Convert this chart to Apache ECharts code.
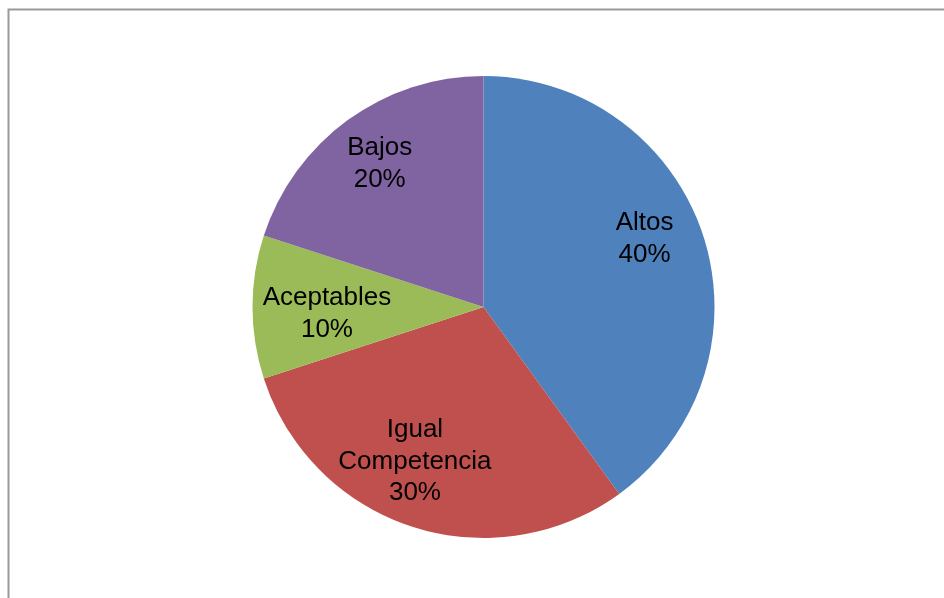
<!DOCTYPE html>
<html>
<head>
<meta charset="utf-8">
<style>
  html, body { margin: 0; padding: 0; background: #ffffff; }
  #chart { width: 944px; height: 598px; }
</style>
<script src="https://cdn.jsdelivr.net/npm/echarts@6/dist/echarts.min.js"></script>
</head>
<body>
<div id="chart"></div>
<script>
// Market position breakdown
const categories = ['Altos', 'Igual\nCompetencia', 'Aceptables', 'Bajos'];
const shares = [40, 30, 10, 20];
const sliceColors = ['#4F81BD', '#C0504D', '#9BBB59', '#8064A2'];

// Label placement inside each slice: angle nudge (degrees) and radial fraction
const labelAngleShift = [-5.6, 6.2, -1.7, 0.4];
const labelRadiusFrac = [0.761, 0.724, 0.678, 0.772];

const W = 944, H = 598;
const cx = 483.5, cy = 307, R = 231;
const textBaselineNudge = 2;

const total = shares.reduce((a, b) => a + b, 0);
// mid-angle of each slice, measured clockwise from 12 o'clock
const midAngles = [];
let acc = 0;
shares.forEach(v => {
  midAngles.push((acc + v / 2) / total * 360);
  acc += v;
});

const chart = echarts.init(document.getElementById('chart'), null, { renderer: 'canvas' });

chart.setOption({
  backgroundColor: '#ffffff',
  animation: false,
  graphic: [{
    type: 'polyline',
    silent: true,
    shape: { points: [[8.5, H], [8.5, 9.5], [W, 9.5]] },
    style: { stroke: '#9a9a9a', lineWidth: 2, fill: null }
  }],
  series: [{
    type: 'pie',
    center: [cx / W * 100 + '%', cy / H * 100 + '%'],
    radius: [0, R],
    startAngle: 90,
    clockwise: true,
    avoidLabelOverlap: false,
    itemStyle: { borderWidth: 0 },
    emphasis: { disabled: true },
    label: {
      show: true,
      position: 'inside',
      formatter: p => p.name + '\n' + p.value + '%',
      color: '#000000',
      fontFamily: '"Liberation Sans", Arial, sans-serif',
      fontSize: 26,
      lineHeight: 31.5,
      align: 'center'
    },
    labelLine: { show: false },
    labelLayout: function (params) {
      const i = params.dataIndex;
      const a = (midAngles[i] + labelAngleShift[i]) * Math.PI / 180;
      const r = R * labelRadiusFrac[i];
      return {
        x: cx + r * Math.sin(a),
        y: cy - r * Math.cos(a) + textBaselineNudge,
        align: 'center',
        verticalAlign: 'middle'
      };
    },
    data: categories.map((c, i) => ({
      name: c,
      value: shares[i],
      itemStyle: { color: sliceColors[i] }
    }))
  }]
});
</script>
</body>
</html>
